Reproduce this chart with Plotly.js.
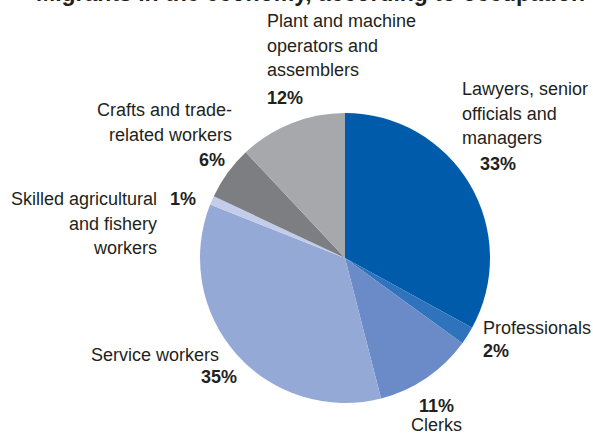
<!DOCTYPE html>
<html>
<head>
<meta charset="utf-8">
<script src="https://cdn.plot.ly/plotly-3.0.1.min.js"></script>
<style>html,body{margin:0;padding:0;background:#fff;}#chart{width:593px;height:434px;}</style>
</head>
<body>
<div id="chart"></div>
<script>
const categories = ["Lawyers, senior officials and managers", "Professionals", "Clerks", "Service workers", "Skilled agricultural and fishery workers", "Crafts and trade-related workers", "Plant and machine operators and assemblers"];
const labelLines = [["Lawyers, senior", "officials and", "managers"], ["Professionals"], ["Clerks"], ["Service workers"], ["Skilled agricultural", "and fishery", "workers"], ["Crafts and trade-", "related workers"], ["Plant and machine", "operators and", "assemblers"]];
const shares = [33, 2, 11, 35, 1, 6, 12];
const colors = ["#005BAA", "#2F73BD", "#6A8BC8", "#95A9D7", "#C3CDEA", "#7D7E82", "#A7A8AC"];
const titleText = "Migrants in the economy, according to occupation";

const W = 593, H = 434;
const px = x => x / W;
const py = y => 1 - y / H;
const F = "Liberation Sans, Arial, sans-serif";
const txt = "#231F20";
const LS = 24.5;

function lab(text, x, y, xanchor, bold) {
  return {text: bold ? "<b>" + text + "</b>" : text, x: px(x), y: py(y), xref: "paper", yref: "paper",
    xanchor: xanchor, yanchor: "middle", align: xanchor, showarrow: false,
    font: {family: F, size: 18, color: txt}};
}
function block(i, x, y, xanchor) {
  return labelLines[i].map((t, k) => lab(t, x, y + k * LS, xanchor));
}

const annotations = [
  {text: "<b>" + titleText + "</b>", x: px(310), y: 1, xref: "paper", yref: "paper", xanchor: "center", yanchor: "bottom",
   yshift: -8, showarrow: false, font: {family: F, size: 23, color: txt}},
  ...block(6, 265, 21, "left"),
  lab(shares[6] + "%", 265, 98, "left", true),
  ...block(0, 460, 89, "left"),
  lab(shares[0] + "%", 478, 164, "left", true),
  ...block(1, 481, 328, "left"),
  lab(shares[1] + "%", 481, 351, "left", true),
  lab(shares[2] + "%", 437, 406, "center", true),
  ...block(2, 437, 425, "center"),
  ...block(3, 221, 355, "right"),
  lab(shares[3] + "%", 239, 377, "right", true),
  ...block(4, 159, 199, "right"),
  lab(shares[4] + "%", 198, 199, "right", true),
  ...block(5, 234, 110, "right"),
  lab(shares[5] + "%", 227, 160, "right", true)
];

const trace = {
  type: "pie", labels: categories, values: shares, sort: false, direction: "clockwise", rotation: 0,
  marker: {colors: colors, line: {width: 0}}, textinfo: "none", hoverinfo: "label+percent",
  domain: {x: [px(200), px(490)], y: [py(403), py(113)]}, showlegend: false
};

Plotly.newPlot("chart", [trace], {
  width: W, height: H, margin: {l: 0, r: 0, t: 0, b: 0},
  paper_bgcolor: "#fff", showlegend: false, annotations: annotations
}, {displayModeBar: false, staticPlot: true});
</script>
</body>
</html>
